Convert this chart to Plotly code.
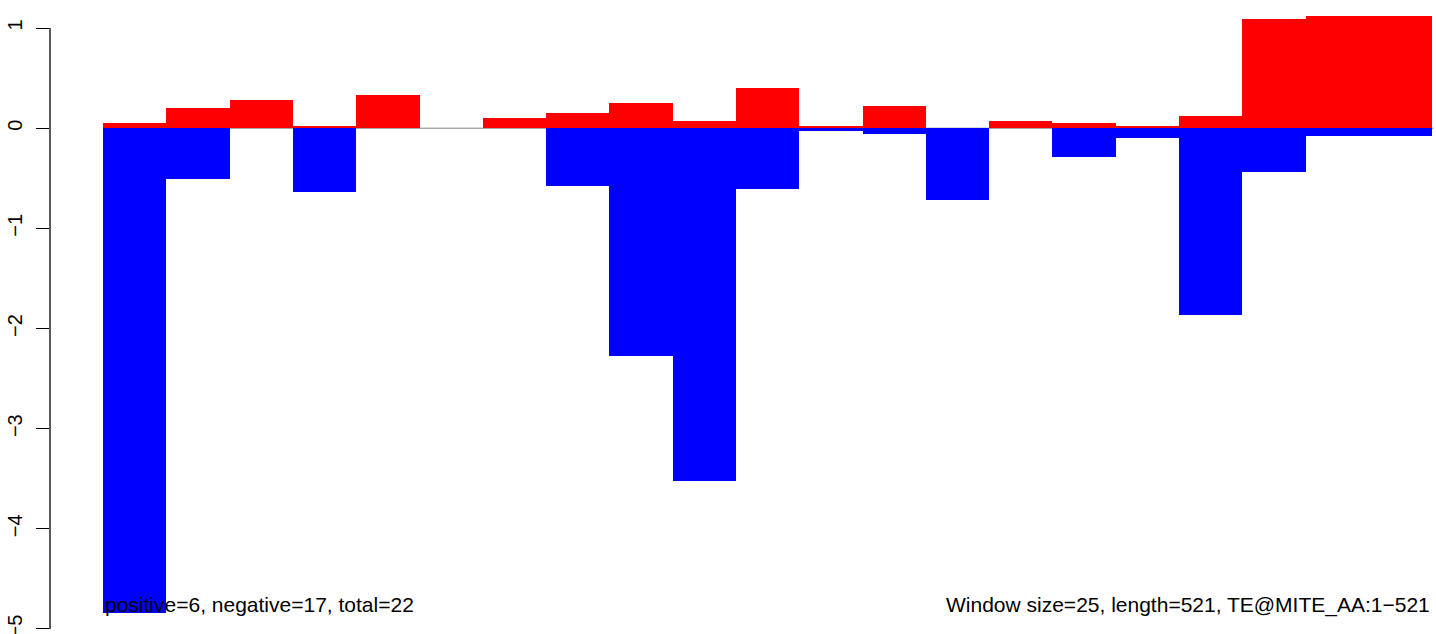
import plotly.graph_objects as go

# window index (1..21)
windows = list(range(1, 22))
positive_vals = [0.05, 0.20, 0.28, 0.02, 0.33, 0.0, 0.10, 0.155, 0.255, 0.075, 0.40,
                 0.025, 0.22, 0.0, 0.073, 0.053, 0.025, 0.123, 1.093, 1.123, 1.123]
negative_vals = [-4.84, -0.51, 0.0, -0.64, 0.0, 0.0, 0.0, -0.58, -2.27, -3.52, -0.61,
                 -0.025, -0.053, -0.715, 0.0, -0.285, -0.10, -1.86, -0.434, -0.073, -0.073]
y_ticks = [1, 0, -1, -2, -3, -4, -5]
left_label = "positive=6, negative=17, total=22"
right_label = "Window size=25, length=521, TE@MITE_AA:1\u2212521"

xc = [w - 0.5 for w in windows]
FONT = "Liberation Sans, Arial, Helvetica, sans-serif"

fig = go.Figure()
fig.add_trace(go.Bar(x=xc, y=positive_vals, width=1.0, marker=dict(color="#FF0000", line=dict(width=0)),
                     showlegend=False, hoverinfo="skip"))
fig.add_trace(go.Bar(x=xc, y=negative_vals, width=1.0, marker=dict(color="#0000FF", line=dict(width=0)),
                     showlegend=False, hoverinfo="skip"))

# zero line under bars
fig.add_shape(type="line", xref="x", yref="y", x0=0, x1=len(windows) + 0.02, y0=0, y1=0,
              line=dict(color="#808080", width=1), layer="below")
# R-style axis line spanning tick range only
fig.add_shape(type="line", xref="paper", yref="y", x0=0, x1=0, y0=min(y_ticks), y1=max(y_ticks),
              line=dict(color="black", width=1.3))

fig.add_annotation(x=0, y=-4.76, xref="x", yref="y", text=left_label, showarrow=False,
                   xanchor="left", yanchor="middle", font=dict(family=FONT, size=21, color="black"))
fig.add_annotation(x=len(windows), y=-4.76, xref="x", yref="y", text=right_label, showarrow=False,
                   xanchor="right", yanchor="middle", font=dict(family=FONT, size=21, color="black"))

fig.update_layout(
    width=1436, height=634,
    margin=dict(l=50, r=0, t=0, b=0, autoexpand=False),
    paper_bgcolor="white", plot_bgcolor="white",
    barmode="overlay", bargap=0,
    xaxis=dict(range=[-0.84, 21.06], showgrid=False, zeroline=False, showline=False,
               showticklabels=False, ticks=""),
    yaxis=dict(range=[-5.05, 1.28], showgrid=False, zeroline=False, showline=False,
               tickmode="array", tickvals=y_ticks,
               ticktext=[str(v).replace("-", "\u2212") for v in y_ticks],
               ticks="outside", ticklen=13, tickwidth=1.3, tickcolor="black",
               tickangle=-90, ticklabelstandoff=6, automargin=False,
               ticklabeloverflow="allow",
               tickfont=dict(family=FONT, size=20, color="black")),
    font=dict(family=FONT),
)

fig.write_html("out.html", config={"displayModeBar": False},
               post_script="document.body.style.margin='0';document.body.style.overflow='hidden';")
